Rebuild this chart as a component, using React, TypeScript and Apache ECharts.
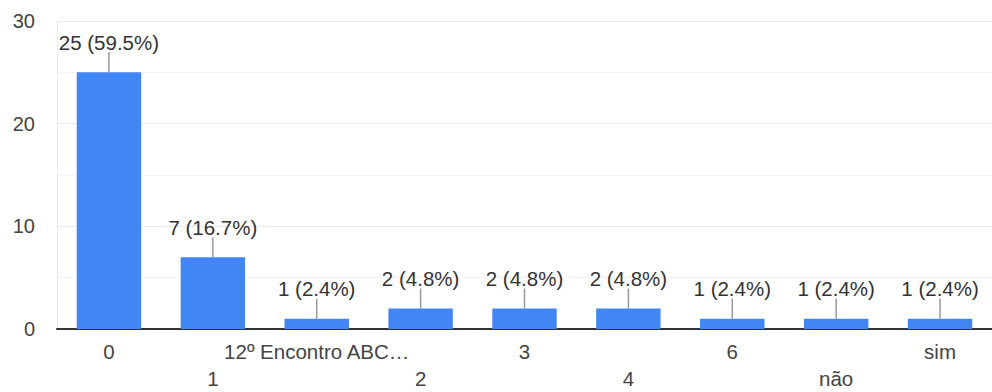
import React, { useEffect, useRef } from "react";
import * as echarts from "echarts";

const categories = ["0", "1", "12º Encontro ABC…", "2", "3", "4", "6", "não", "sim"];
const counts = [25, 7, 1, 2, 2, 2, 1, 1, 1];
const yTicks = [0, 10, 20, 30];

const total = counts.reduce((a, b) => a + b, 0);
const labelTexts = counts.map((v) => `${v} (${((v / total) * 100).toFixed(1)}%)`);

export default function App() {
  const ref = useRef<HTMLDivElement>(null);
  useEffect(() => {
    if (!ref.current) return;
    const chart = echarts.init(ref.current, null, { renderer: "svg" });
    const font = "Liberation Sans, Arial, sans-serif";
    chart.setOption({
      animation: false,
      grid: { left: 57, right: 0, top: 21, bottom: 61 },
      xAxis: {
        type: "category",
        data: categories,
        axisTick: { show: false },
        axisLine: { lineStyle: { color: "#333", width: 2 } },
        axisLabel: {
          interval: 0,
          margin: 9,
          fontSize: 20.5,
          fontFamily: font,
          color: "#444",
          lineHeight: 27,
          formatter: (v: string, i: number) => (i % 2 === 1 ? "\n" + v : v),
        },
      },
      yAxis: {
        type: "value",
        min: yTicks[0],
        max: yTicks[yTicks.length - 1],
        interval: 10,
        axisLine: { show: true, lineStyle: { color: "#ebebeb" } },
        axisTick: { show: false },
        axisLabel: { fontSize: 20, fontFamily: font, color: "#444", margin: 22 },
        splitLine: { lineStyle: { color: "#ebebeb" } },
        minorTick: { show: false, splitNumber: 2 },
        minorSplitLine: { show: true, lineStyle: { color: "#f3f3f3" } },
      },
      series: [
        {
          type: "bar",
          data: counts,
          barWidth: "62%",
          itemStyle: { color: "#4285f4" },
        },
        {
          type: "custom",
          data: counts.map((v, i) => [i, v]),
          z: 5,
          renderItem: (params: any, api: any) => {
            const p = api.coord([api.value(0), api.value(1)]);
            const idx = params.dataIndex;
            return {
              type: "group",
              children: [
                {
                  type: "line",
                  shape: { x1: p[0], y1: p[1], x2: p[0], y2: p[1] - 20 },
                  style: { stroke: "#999", lineWidth: 1.5 },
                },
                {
                  type: "text",
                  style: {
                    text: labelTexts[idx],
                    x: p[0],
                    y: p[1] - 30,
                    align: "center",
                    verticalAlign: "middle",
                    fontSize: 20.5,
                    fontFamily: font,
                    fill: "#333",
                  },
                },
              ],
            };
          },
        },
      ],
    });
    return () => chart.dispose();
  }, []);
  return <div ref={ref} style={{ width: 992, height: 392, position: "absolute", left: 0, top: 0 }} />;
}
